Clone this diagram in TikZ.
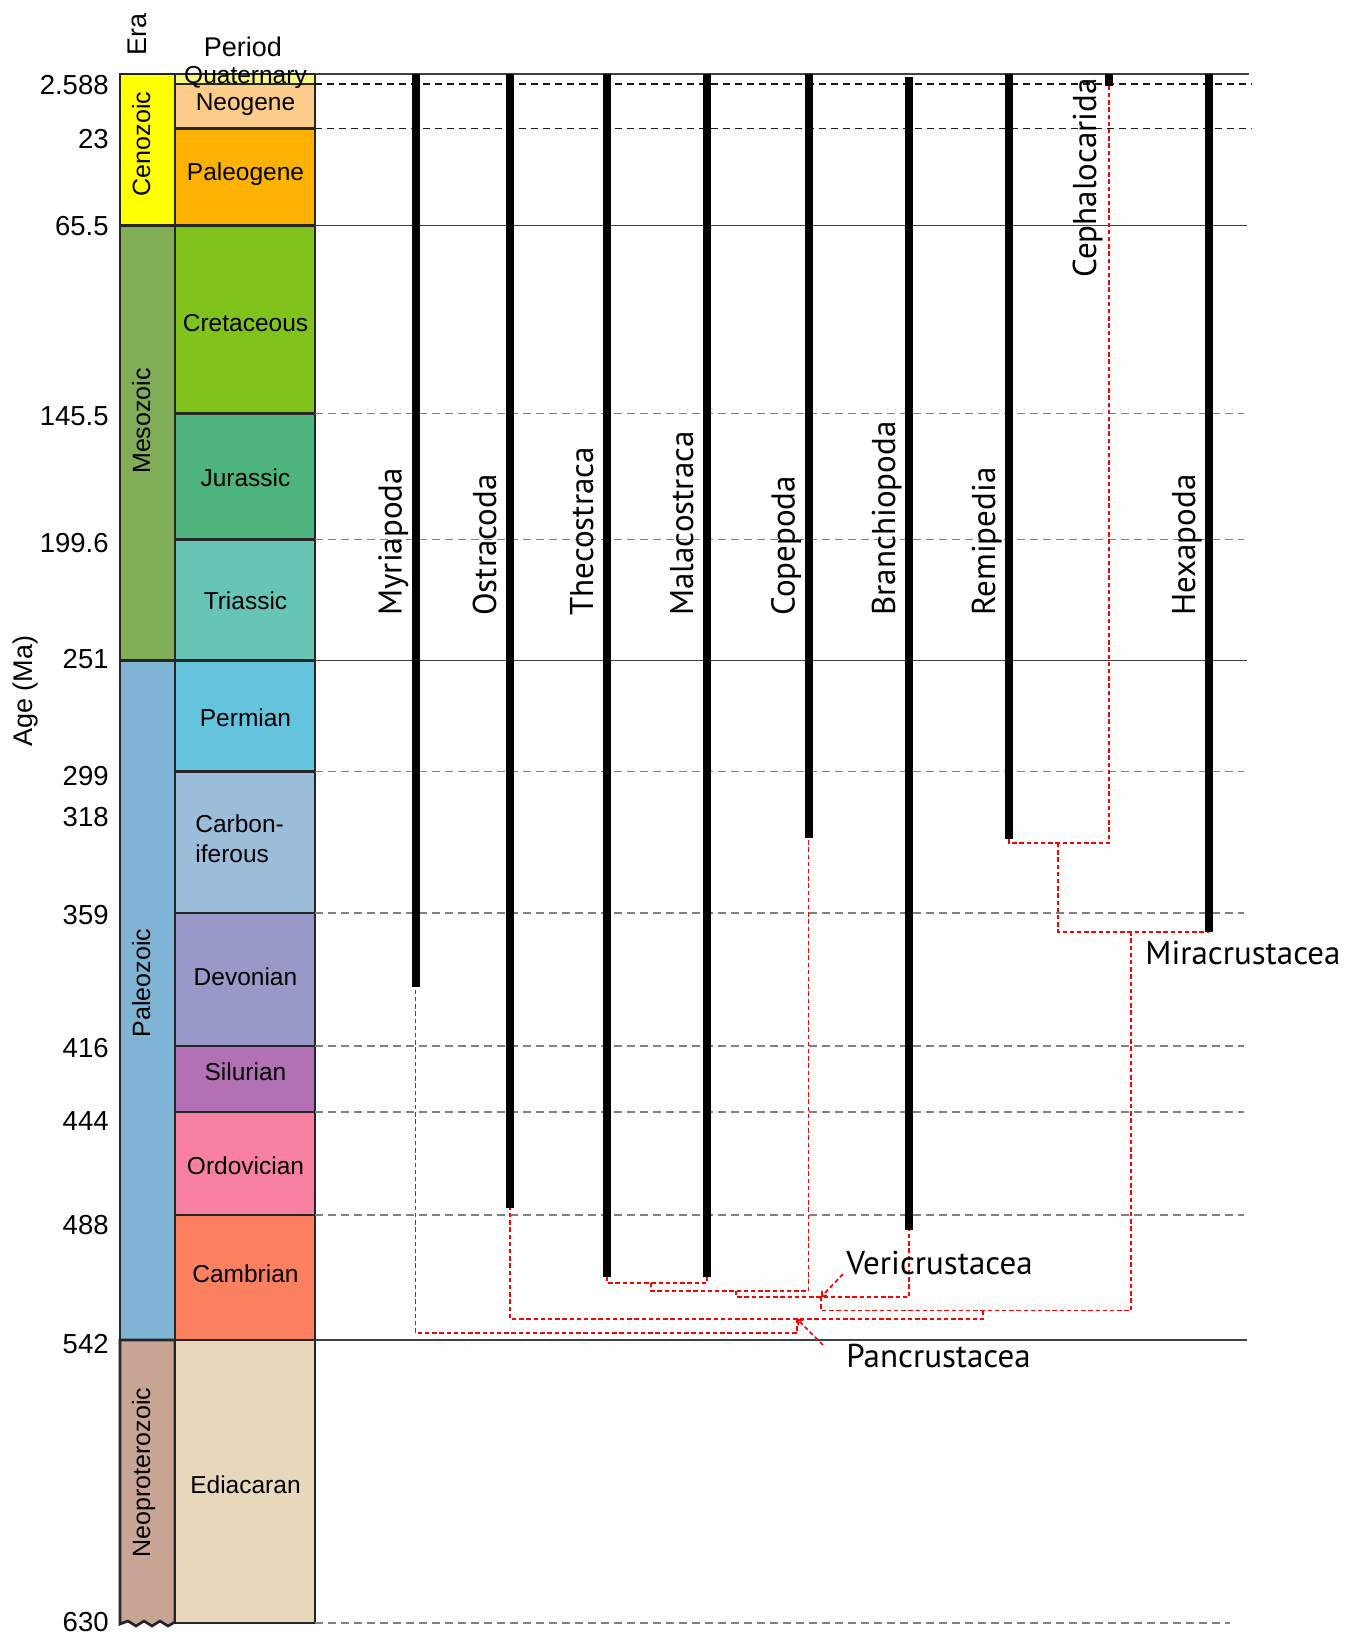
\documentclass[tikz,border=0pt]{standalone}
\usepackage{fontspec}
\setmainfont{Liberation Sans}
\newfontfamily\ptsans{PT Sans}
\usetikzlibrary{arrows.meta,calc}
\definecolor{boxline}{HTML}{262626}
\definecolor{cenozoic}{HTML}{FFFF00}
\definecolor{mesozoic}{HTML}{80AD55}
\definecolor{paleozoic}{HTML}{7FB4D5}
\definecolor{neoproterozoic}{HTML}{C9A596}
\definecolor{quaternary}{HTML}{F9F97F}
\definecolor{neogene}{HTML}{FDCC8A}
\definecolor{paleogene}{HTML}{FDB200}
\definecolor{cretaceous}{HTML}{7FC31C}
\definecolor{jurassic}{HTML}{4DB47E}
\definecolor{triassic}{HTML}{67C5B5}
\definecolor{permian}{HTML}{64C4DD}
\definecolor{carboniferous}{HTML}{9CBDDA}
\definecolor{devonian}{HTML}{9999C9}
\definecolor{silurian}{HTML}{B271B4}
\definecolor{ordovician}{HTML}{F880A2}
\definecolor{cambrian}{HTML}{FA805F}
\definecolor{ediacaran}{HTML}{E8D7BB}
\newcommand{\agefont}{\fontsize{13.75pt}{16pt}\selectfont}
\newcommand{\periodfont}{\fontsize{12.25pt}{14pt}\selectfont}
\newcommand{\erafont}{\fontsize{12.5pt}{14pt}\selectfont}
\newcommand{\headfont}{\fontsize{13.5pt}{16pt}\selectfont}
\newcommand{\taxonfont}{\ptsans\fontsize{16.5pt}{19pt}\selectfont}

\begin{document}
\begin{tikzpicture}[x=0.5pt, y=-0.5pt,
	box/.style={draw=boxline, line width=1.35pt},
	period/.style={font=\periodfont, inner sep=0pt, anchor=base},
	era/.style={font=\erafont, rotate=90, inner sep=0pt, anchor=base},
	age/.style={font=\agefont, inner sep=0pt, anchor=east},
	taxon/.style={font=\taxonfont, rotate=90, inner sep=0pt, anchor=base west},
	clade label/.style={font=\taxonfont, inner sep=0pt, anchor=base west},
	bar/.style={line width=4pt},
	clade/.style={red, line width=0.85pt, dash pattern=on 2.2pt off 1.4pt},
	pointer/.style={clade, -{Straight Barb[length=2pt,width=3.5pt]}},
	solidline/.style={black!75, line width=0.6pt},
	darkdash/.style={black!90, line width=0.8pt, dash pattern=on 3.5pt off 2.5pt},
	graydash/.style={black!50, line width=0.6pt, dash pattern=on 4pt off 2.5pt}]
\useasboundingbox (0,0) rectangle (1364,1646);

\filldraw[box, fill=cenozoic] (120,74) rectangle (175,225.5);
\filldraw[box, fill=mesozoic] (120,225.5) rectangle (175,660.5);
\filldraw[box, fill=paleozoic] (120,660.5) rectangle (175,1340);
\filldraw[box, fill=neoproterozoic] (120,1340) -- (175,1340) -- (175,1622) -- (168,1626) -- (160,1621) -- (152,1626) -- (144,1621) -- (136,1626) -- (128,1621) -- (120,1624) -- cycle;

\filldraw[box, fill=quaternary] (175,74) rectangle (315,84);
\filldraw[box, fill=neogene] (175,84) rectangle (315,128.5);
\filldraw[box, fill=paleogene] (175,128.5) rectangle (315,225.5);
\filldraw[box, fill=cretaceous] (175,225.5) rectangle (315,413.7);
\filldraw[box, fill=jurassic] (175,413.7) rectangle (315,539.7);
\filldraw[box, fill=triassic] (175,539.7) rectangle (315,660.5);
\filldraw[box, fill=permian] (175,660.5) rectangle (315,771.7);
\filldraw[box, fill=carboniferous] (175,771.7) rectangle (315,913);
\filldraw[box, fill=devonian] (175,913) rectangle (315,1046);
\filldraw[box, fill=silurian] (175,1046) rectangle (315,1112);
\filldraw[box, fill=ordovician] (175,1112) rectangle (315,1215);
\filldraw[box, fill=cambrian] (175,1215) rectangle (315,1340);
\filldraw[box, fill=ediacaran] (175,1340) rectangle (315,1623);

\draw[solidline] (315,74) -- (1249,74);
\draw[darkdash] (315,84) -- (1252,84);
\draw[darkdash] (315,128.5) -- (1252,128.5);
\draw[solidline] (315,225.5) -- (1247,225.5);
\draw[graydash] (315,413.7) -- (1244,413.7);
\draw[graydash] (315,539.7) -- (1244,539.7);
\draw[solidline] (315,660.5) -- (1247,660.5);
\draw[graydash] (315,771.7) -- (1244,771.7);
\draw[graydash] (315,913) -- (1244,913);
\draw[graydash] (315,1046) -- (1244,1046);
\draw[graydash] (315,1112) -- (1244,1112);
\draw[graydash] (315,1215) -- (1244,1215);
\draw[solidline] (315,1340) -- (1247,1340);
\draw[graydash] (315,1623) -- (1230,1623);

\node[font=\headfont, rotate=90, inner sep=0pt] (hera) at (137,34) {Era};
\node[font=\headfont, inner sep=0pt, anchor=base] (hperiod) at (243,56) {Period};
\node[font=\headfont, rotate=90, inner sep=0pt] (hage) at (26,691) {Age (Ma)};

\node[age] (a2588) at (109,85) {2.588};
\node[age] (a23) at (109,138.7) {23};
\node[age] (a655) at (109,226) {65.5};
\node[age] (a1455) at (109,416) {145.5};
\node[age] (a1996) at (109,543) {199.6};
\node[age] (a251) at (109,659.5) {251};
\node[age] (a299) at (109,776) {299};
\node[age] (a318) at (109,817.5) {318};
\node[age] (a359) at (109,915) {359};
\node[age] (a416) at (109,1048) {416};
\node[age] (a444) at (109,1121) {444};
\node[age] (a488) at (109,1225) {488};
\node[age] (a542) at (109,1344) {542};
\node[age] (a630) at (109,1621.7) {630};

\node[era] (ecen) at (150,144) {Cenozoic};
\node[era] (emes) at (150,421) {Mesozoic};
\node[era] (epal) at (150,983) {Paleozoic};
\node[era] (eneo) at (150,1472.5) {Neoproterozoic};

\node[period] (pqua) at (245.5,83) {Quaternary};
\node[period] (pneo) at (245.5,110.7) {Neogene};
\node[period] (ppal) at (245.5,180) {Paleogene};
\node[period] (pcre) at (245.5,331) {Cretaceous};
\node[period] (pjur) at (245.5,486) {Jurassic};
\node[period] (ptri) at (245.5,609) {Triassic};
\node[period] (pper) at (245.5,726) {Permian};
\node[period, anchor=base west] (pcar) at (195,832.3) {Carbon-};
\node[period, anchor=base west] (pcar2) at (195,862.7) {iferous};
\node[period] (pdev) at (245.5,985.7) {Devonian};
\node[period] (psil) at (245.5,1080) {Silurian};
\node[period] (pord) at (245.5,1174.3) {Ordovician};
\node[period] (pcam) at (245.5,1282.7) {Cambrian};
\node[period] (pedi) at (245.5,1493) {Ediacaran};

\coordinate (myr-t) at (415.5,74);
\coordinate (myr-b) at (415.5,987);
\coordinate (ostr-t) at (510,74);
\coordinate (ostr-b) at (510,1208);
\coordinate (thec-t) at (607,74);
\coordinate (thec-b) at (607,1277);
\coordinate (mala-t) at (707,74);
\coordinate (mala-b) at (707,1277);
\coordinate (cope-t) at (808.5,74);
\coordinate (cope-b) at (808.5,838);
\coordinate (bran-t) at (909,77);
\coordinate (bran-b) at (909,1230);
\coordinate (remi-t) at (1009,74);
\coordinate (remi-b) at (1009,839);
\coordinate (ceph-t) at (1109,74);
\coordinate (ceph-b) at (1109,86);
\coordinate (hexa-t) at (1209,74);
\coordinate (hexa-b) at (1209,932);

\coordinate (n1) at (651,1283);
\coordinate (n2) at (736,1291);
\coordinate (n3) at (821,1297);
\coordinate (n4) at (983,1310.5);
\coordinate (n5) at (1131,932);
\coordinate (n6) at (1058,843);
\coordinate (n7) at (797,1319);
\coordinate (n8) at (797,1333);

\node[taxon] (tmyr) at (401.5,616) {Myriapoda};
\node[taxon] (tostr) at (496,616) {Ostracoda};
\node[taxon] (tthec) at (593,616) {Thecostraca};
\node[taxon] (tmala) at (693,616) {Malacostraca};
\node[taxon] (tcope) at (794.5,616) {Copepoda};
\node[taxon] (tbran) at (895,616) {Branchiopoda};
\node[taxon] (tremi) at (995,616) {Remipedia};
\node[taxon] (tceph) at (1096,278) {Cephalocarida};
\node[taxon] (thexa) at (1195,616) {Hexapoda};

\draw[clade] (thec-b) |- (n1) -| (mala-b);
\draw[clade] (n1) |- (n2) -| (cope-b);
\draw[clade] (n2) |- (n3) -| (bran-b);
\draw[clade] (remi-b) |- (n6) -| (ceph-b);
\draw[clade] (n6) |- (n5) -| (hexa-b);
\draw[clade] (n3) |- (n4) -| (n5);
\draw[clade] (n4) |- (n7) -| (ostr-b);
\draw[clade] (n7) -- (n8) -| (myr-b);

\draw[bar] (myr-t) -- (myr-b);
\draw[bar] (ostr-t) -- (ostr-b);
\draw[bar] (thec-t) -- (thec-b);
\draw[bar] (mala-t) -- (mala-b);
\draw[bar] (cope-t) -- (cope-b);
\draw[bar] (bran-t) -- (bran-b);
\draw[bar] (remi-t) -- (remi-b);
\draw[bar] (ceph-t) -- (ceph-b);
\draw[bar] (hexa-t) -- (hexa-b);

\node[clade label] (veri) at (846,1274) {Vericrustacea};
\node[clade label] (panc) at (846,1367) {Pancrustacea};
\node[clade label] (mira) at (1145,964) {Miracrustacea};
\draw[pointer] ($(veri.base west)+(-3,0)$) -- (n3);
\draw[pointer] ($(panc.base west)+(-23,-22)$) -- (n7);
\end{tikzpicture}
\end{document}
